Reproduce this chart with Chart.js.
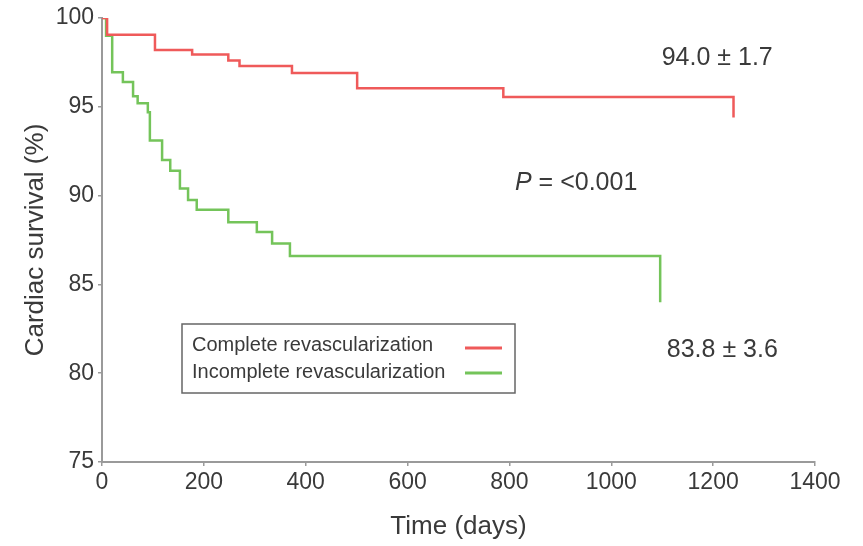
<!DOCTYPE html>
<html>
<head>
<meta charset="utf-8">
<script src="https://cdn.jsdelivr.net/npm/chart.js@4"></script>
<style>
  html, body { margin: 0; padding: 0; background: #fff; }
  #wrap { width: 863px; height: 546px; }
</style>
</head>
<body>
<div id="wrap"><canvas id="kmChart" width="863" height="546"></canvas></div>
<script>
// Kaplan-Meier steps (days, survival %)
var completeDays = [0, 10, 104, 177, 248, 270, 373, 501, 788, 1240];
var completeSurv = [100, 99.05, 98.2, 97.95, 97.6, 97.3, 96.9, 96.05, 95.55, 94.4];

var incompleteDays = [0, 8, 20, 41, 61, 70, 90, 94, 118, 134, 153, 169, 186, 248, 304, 334, 369, 1096];
var incompleteSurv = [100, 99.0, 96.95, 96.4, 95.6, 95.2, 94.7, 93.1, 92.0, 91.4, 90.4, 89.75, 89.2, 88.5, 87.95, 87.3, 86.6, 84.0];

var seriesNames = ["Complete revascularization", "Incomplete revascularization"];
var seriesColors = ["#ef5a5a", "#74c45a"];
var xTicks = [0, 200, 400, 600, 800, 1000, 1200, 1400];
var yTicks = [75, 80, 85, 90, 95, 100];
var notes = [
  { x: 1208, y: 97.75, text: "94.0 \u00b1 1.7" },
  { x: 1218, y: 81.3, text: "83.8 \u00b1 3.6" }
];

function pts(xs, ys) {
  return xs.map(function (x, i) { return { x: x, y: ys[i] }; });
}

var textCol = "#3a3a3a";
var axisCol = "#9a9a9a";
var fam = "'Liberation Sans', Arial, sans-serif";

// legend box + annotations drawn on top
var extras = {
  id: "extras",
  afterDraw: function (chart) {
    var ctx = chart.ctx;
    var xs = chart.scales.x, ys = chart.scales.y;
    ctx.save();
    ctx.fillStyle = textCol;
    ctx.textBaseline = "middle";
    ctx.textAlign = "center";
    ctx.font = "25px " + fam;
    notes.forEach(function (n) {
      ctx.fillText(n.text, xs.getPixelForValue(n.x), ys.getPixelForValue(n.y));
    });
    // P value, italic P
    var px = 515, py = 183;
    ctx.textAlign = "left";
    ctx.font = "italic 25px " + fam;
    ctx.fillText("P", px, py);
    var w = ctx.measureText("P ").width;
    ctx.font = "25px " + fam;
    ctx.fillText("= <0.001", px + w, py);

    // legend box
    ctx.strokeStyle = "#666";
    ctx.lineWidth = 1.5;
    ctx.strokeRect(182, 324, 333, 69);
    ctx.font = "20px " + fam;
    ctx.textAlign = "left";
    for (var i = 0; i < seriesNames.length; i++) {
      var yy = 345 + i * 27;
      ctx.fillStyle = textCol;
      ctx.fillText(seriesNames[i], 192, yy);
      ctx.strokeStyle = seriesColors[i];
      ctx.lineWidth = 3;
      ctx.beginPath();
      ctx.moveTo(465, yy + 3 - i * 2);
      ctx.lineTo(502, yy + 3 - i * 2);
      ctx.stroke();
    }
    ctx.restore();
  }
};

new Chart("kmChart", {
  type: "line",
  data: {
    datasets: [{
      label: seriesNames[0],
      data: pts(completeDays, completeSurv),
      borderColor: seriesColors[0],
      borderWidth: 2.5,
      stepped: true,
      pointRadius: 0,
      fill: false
    }, {
      label: seriesNames[1],
      data: pts(incompleteDays, incompleteSurv),
      borderColor: seriesColors[1],
      borderWidth: 2.5,
      stepped: true,
      pointRadius: 0,
      fill: false
    }]
  },
  options: {
    responsive: false,
    animation: false,
    layout: { padding: { top: 18, right: 48, left: 0, bottom: 0 } },
    plugins: { legend: { display: false }, tooltip: { enabled: false } },
    scales: {
      x: {
        type: "linear",
        min: 0, max: 1400,
        afterBuildTicks: function (s) { s.ticks = xTicks.map(function (v) { return { value: v }; }); },
        afterFit: function (s) { s.height = 84; },
        border: { color: axisCol, width: 2 },
        grid: { drawOnChartArea: false, color: axisCol, tickLength: 4, lineWidth: 1.5 },
        ticks: { color: textCol, font: { family: fam, size: 23 }, padding: 3, maxRotation: 0,
          callback: function (v) { return String(v); } },
        title: { display: true, text: "Time (days)", color: textCol, font: { family: fam, size: 26 }, padding: { top: 2 } }
      },
      y: {
        min: 75, max: 100,
        afterBuildTicks: function (s) { s.ticks = yTicks.map(function (v) { return { value: v }; }); },
        afterFit: function (s) { s.width = 102; },
        border: { color: axisCol, width: 2 },
        grid: { drawOnChartArea: false, color: axisCol, tickLength: 4, lineWidth: 1.5 },
        ticks: { color: textCol, font: { family: fam, size: 23 }, padding: 4,
          callback: function (v) { return String(v); } },
        title: { display: true, text: "Cardiac survival (%)", color: textCol, font: { family: fam, size: 26 }, padding: { top: 20, bottom: 0 } }
      }
    }
  },
  plugins: [extras]
});
</script>
</body>
</html>
